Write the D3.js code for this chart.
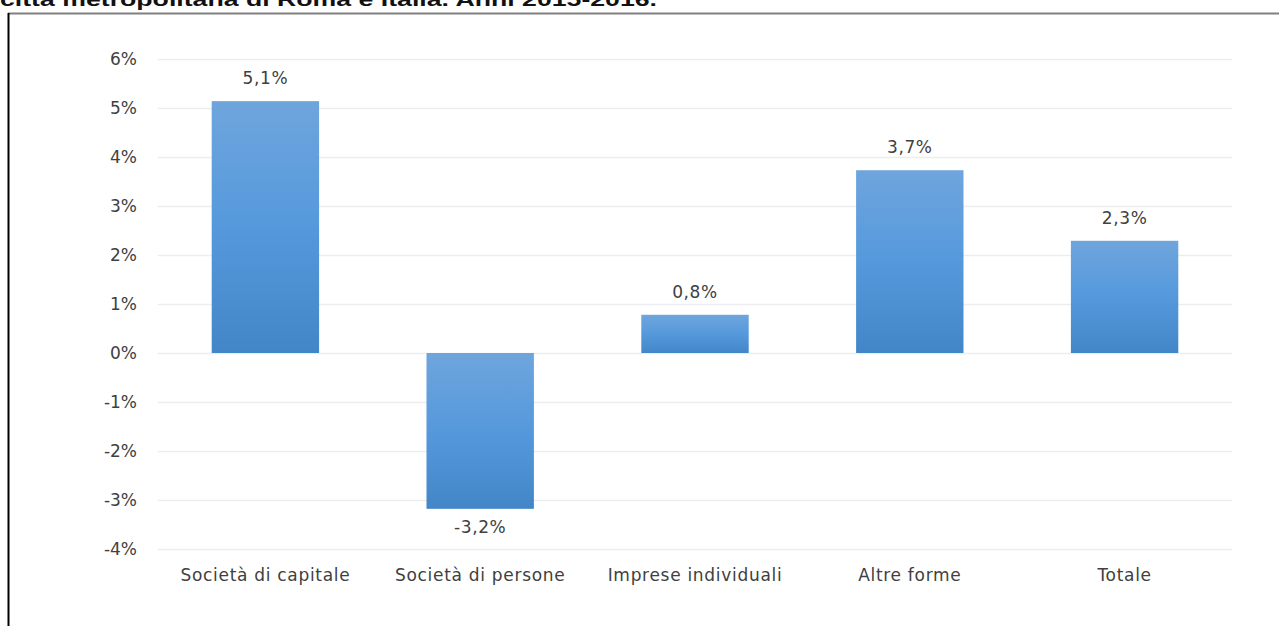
<!DOCTYPE html>
<html><head><meta charset="utf-8">
<script src="https://cdn.jsdelivr.net/npm/d3@7"></script>
<style>body{margin:0;background:#fff;overflow:hidden}svg{display:block}</style>
</head><body>
<svg id="c" width="1279" height="626"></svg>
<script>
const categories = ["Società di capitale","Società di persone","Imprese individuali","Altre forme","Totale"];
const values = [5.14, -3.18, 0.78, 3.73, 2.29];
const valueLabels = ["5,1%","-3,2%","0,8%","3,7%","2,3%"];
const yTicks = [6,5,4,3,2,1,0,-1,-2,-3,-4];
const titleText = "città metropolitana di Roma e Italia. Anni 2015-2016.";

const svg = d3.select("#c");
const font = "'DejaVu Sans', sans-serif";
const fs = 17;

// title (clipped at top)
svg.append("text").attr("x",0).attr("y",6)
  .attr("font-family","'Liberation Sans', Arial, sans-serif").attr("font-weight","bold")
  .attr("font-size",19).attr("fill","#111")
  .attr("textLength",657).attr("lengthAdjust","spacingAndGlyphs")
  .text(titleText);

// frame
svg.append("line").attr("x1",8).attr("x2",1279).attr("y1",13.5).attr("y2",13.5)
  .attr("stroke","#808080").attr("stroke-width",2);
svg.append("line").attr("x1",8.5).attr("x2",8.5).attr("y1",13).attr("y2",626)
  .attr("stroke","#000").attr("stroke-width",2);

const x = d3.scaleBand().domain(categories).range([158,1232]).paddingInner(0.5).paddingOuter(0.25);
const y = d3.scaleLinear().domain([-4,6]).range([549,59]);

const defs = svg.append("defs");
const g = defs.append("linearGradient").attr("id","grad").attr("x1",0).attr("x2",0).attr("y1",0).attr("y2",1);
g.append("stop").attr("offset","0%").attr("stop-color","#6fa5dc");
g.append("stop").attr("offset","50%").attr("stop-color","#5599dc");
g.append("stop").attr("offset","100%").attr("stop-color","#4386c8");

// gridlines
svg.append("g").selectAll("line").data(yTicks).join("line")
  .attr("x1",158).attr("x2",1232)
  .attr("y1",d=>Math.round(y(d))+0.5).attr("y2",d=>Math.round(y(d))+0.5)
  .attr("stroke","#ebedf0").attr("stroke-width",1.5);

// y axis labels
const yAxis = d3.axisLeft(y).tickValues(yTicks).tickSize(0).tickPadding(0).tickFormat(d=>d+"%");
const ya = svg.append("g").attr("transform","translate(137,0)").call(yAxis);
ya.select(".domain").remove();
ya.selectAll("text").attr("font-family",font).attr("font-size",fs).attr("fill","#404040");

// bars
svg.append("g").selectAll("rect").data(values).join("rect")
  .attr("x",(d,i)=>x(categories[i]))
  .attr("width",x.bandwidth())
  .attr("y",d=>y(Math.max(0,d)))
  .attr("height",d=>Math.abs(y(d)-y(0)))
  .attr("fill","url(#grad)");

// value labels
svg.append("g").selectAll("text").data(values).join("text")
  .attr("x",(d,i)=>x(categories[i])+x.bandwidth()/2)
  .attr("y",d=> d>=0 ? y(d)-17 : y(d)+24)
  .attr("text-anchor","middle")
  .attr("font-family",font).attr("font-size",fs).attr("letter-spacing",0.6).attr("fill","#404040")
  .text((d,i)=>valueLabels[i]);

// x axis labels
const xAxis = d3.axisBottom(x).tickSize(0).tickPadding(0);
const xa = svg.append("g").attr("transform","translate(0,581)").call(xAxis);
xa.select(".domain").remove();
xa.selectAll("text").attr("font-family",font).attr("font-size",fs).attr("letter-spacing",0.7).attr("fill","#404040").attr("dy",0);
</script>
</body></html>
